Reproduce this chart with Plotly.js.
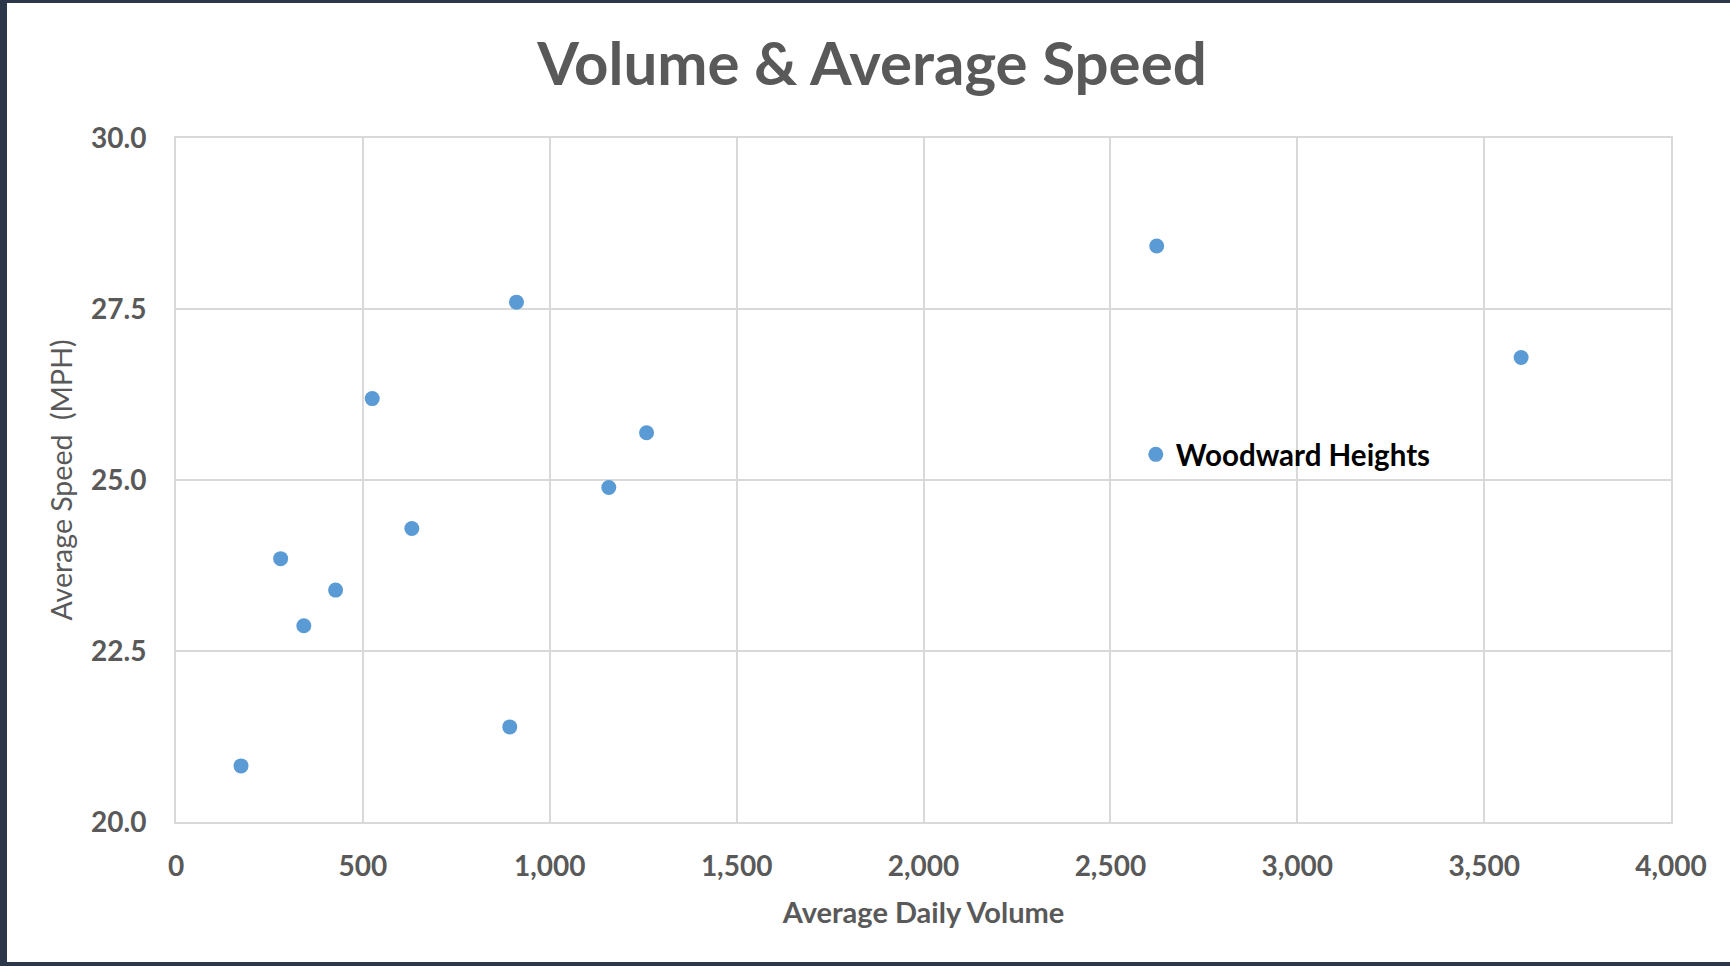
<!DOCTYPE html>
<html>
<head>
<meta charset="utf-8">
<script src="https://cdn.plot.ly/plotly-3.0.1.min.js"></script>
<style>
  html, body { margin: 0; padding: 0; background: #2c374a; width: 1730px; height: 966px; overflow: hidden; }
  #chart { position: absolute; left: 7px; top: 3px; width: 1723px; height: 959px; background: #ffffff; }
</style>
</head>
<body>
<div id="chart"></div>
<script>
const seriesName = "Woodward Heights";
const volume = [174, 280, 342, 427, 525, 631, 893, 911, 1158, 1259, 2624, 3599];
const speed  = [20.82, 23.85, 22.87, 23.39, 26.19, 24.29, 21.39, 27.60, 24.89, 25.69, 28.42, 26.79];
const xTickVals = [0, 500, 1000, 1500, 2000, 2500, 3000, 3500, 4000];
const xTickText = ["0", "500", "1,000", "1,500", "2,000", "2,500", "3,000", "3,500", "4,000"];
const yTickVals = [20, 22.5, 25, 27.5, 30];
const yTickText = ["20.0", "22.5", "25.0", "27.5", "30.0"];

const trace = {
  type: "scatter",
  mode: "markers",
  name: seriesName,
  x: volume,
  y: speed,
  marker: { color: "#5b9bd5", size: 15 },
  showlegend: true
};

const layout = {
  width: 1723,
  height: 959,
  paper_bgcolor: "#ffffff",
  plot_bgcolor: "#ffffff",
  margin: { l: 169, r: 59, t: 135, b: 140 },
  font: { family: "Lato, 'Open Sans', sans-serif", color: "#595959" },
  title: {
    text: "<b>Volume &amp; Average Speed</b>",
    font: { family: "Lato, sans-serif", size: 60, color: "#595959" },
    xref: "container", x: 0.502, xanchor: "center",
    yref: "container", y: 0.936, yanchor: "middle"
  },
  xaxis: {
    range: [0, 4000],
    tickvals: xTickVals,
    ticktext: xTickText,
    tickfont: { family: "Lato, sans-serif", size: 28, color: "#595959", weight: "bold" },
    ticks: "outside", ticklen: 18, tickcolor: "rgba(0,0,0,0)",
    showgrid: true, gridcolor: "#d9d9d9", gridwidth: 2,
    showline: true, linecolor: "#d9d9d9", linewidth: 2, mirror: true,
    zeroline: false,
    fixedrange: true,
    title: {
      text: "Average Daily Volume",
      font: { family: "Lato, sans-serif", size: 29, color: "#595959", weight: "bold" },
      standoff: 22
    }
  },
  yaxis: {
    range: [20, 30],
    tickvals: yTickVals,
    ticktext: yTickText,
    tickfont: { family: "Lato, sans-serif", size: 28, color: "#595959", weight: "bold" },
    ticks: "outside", ticklen: 22, tickcolor: "rgba(0,0,0,0)",
    showgrid: true, gridcolor: "#d9d9d9", gridwidth: 2,
    showline: true, linecolor: "#d9d9d9", linewidth: 2, mirror: true,
    zeroline: false,
    fixedrange: true,
    title: {
      text: "Average Speed  (MPH)",
      font: { family: "Lato, sans-serif", size: 28.5, color: "#595959" },
      standoff: 10
    }
  },
  showlegend: true,
  legend: {
    x: 0.642, xanchor: "left",
    y: 0.537, yanchor: "middle",
    bgcolor: "rgba(0,0,0,0)",
    font: { family: "Lato, sans-serif", size: 29.5, color: "#000000", weight: "bold" }
  }
};

Plotly.newPlot("chart", [trace], layout, { displayModeBar: false, staticPlot: true });
</script>
</body>
</html>
